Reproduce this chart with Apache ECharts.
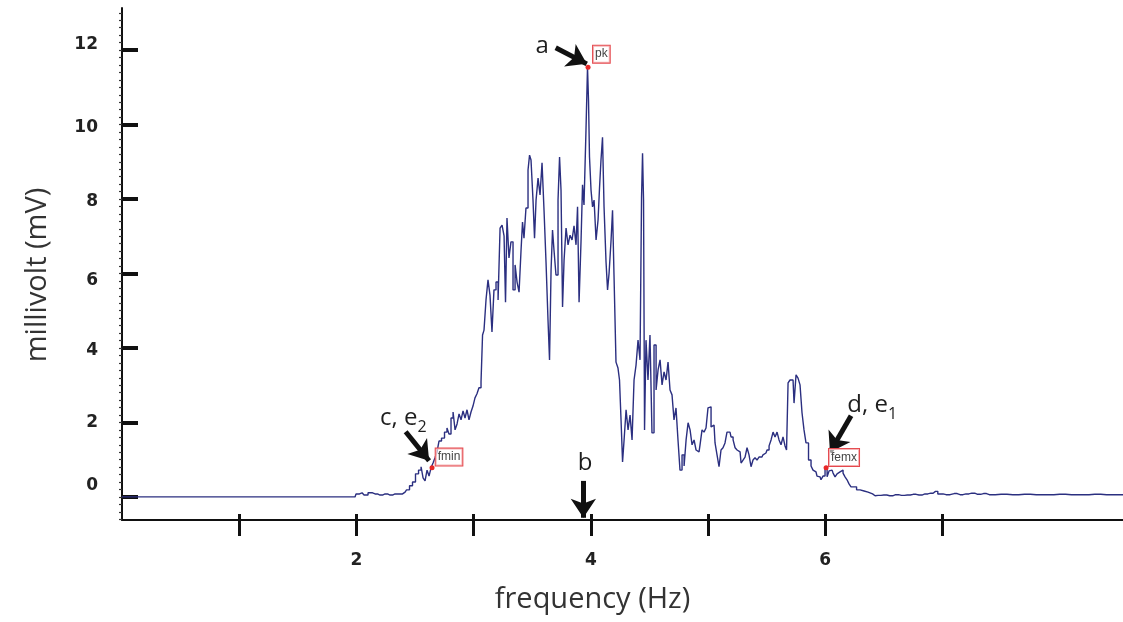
<!DOCTYPE html>
<html><head><meta charset="utf-8">
<script src="https://cdn.jsdelivr.net/npm/echarts@6/dist/echarts.min.js"></script>
<style>html,body{margin:0;padding:0;background:#fff}#c{width:1123px;height:622px}</style>
</head><body><div id="c"></div>
<script>
// frequency (Hz)
const freq = [
  0, 1.988, 2.005, 2.048, 2.082, 2.116, 2.159, 2.201, 2.244, 2.287,
  2.329, 2.372, 2.415, 2.440, 2.466, 2.491, 2.517, 2.543, 2.560, 2.577,
  2.594, 2.611, 2.628, 2.645, 2.662, 2.679, 2.696, 2.713, 2.739, 2.764,
  2.781, 2.798, 2.816, 2.833, 2.850, 2.867, 2.884, 2.901, 2.918, 2.935,
  2.952, 2.969, 2.986, 3.003, 3.020, 3.037, 3.054, 3.072, 3.080, 3.097,
  3.114, 3.131, 3.148, 3.165, 3.182, 3.200, 3.217, 3.234, 3.251, 3.268,
  3.276, 3.293, 3.310, 3.327, 3.345, 3.362, 3.379, 3.396, 3.413, 3.421,
  3.438, 3.455, 3.473, 3.481, 3.498, 3.515, 3.524, 3.541, 3.558, 3.575,
  3.592, 3.609, 3.626, 3.643, 3.652, 3.669, 3.677, 3.694, 3.711, 3.729,
  3.737, 3.754, 3.763, 3.780, 3.797, 3.814, 3.831, 3.848, 3.865, 3.882,
  3.891, 3.908, 3.925, 3.933, 3.950, 3.967, 3.976, 3.984, 3.993, 4.010,
  4.019, 4.036, 4.053, 4.070, 4.078, 4.095, 4.104, 4.121, 4.138, 4.147,
  4.164, 4.181, 4.189, 4.206, 4.223, 4.240, 4.249, 4.266, 4.275, 4.292,
  4.309, 4.326, 4.343, 4.360, 4.377, 4.394, 4.411, 4.428, 4.437, 4.445,
  4.454, 4.462, 4.479, 4.496, 4.513, 4.530, 4.548, 4.565, 4.582, 4.599,
  4.616, 4.633, 4.650, 4.667, 4.684, 4.701, 4.718, 4.735, 4.752, 4.769,
  4.787, 4.804, 4.821, 4.838, 4.855, 4.872, 4.889, 4.906, 4.923, 4.940,
  4.957, 4.974, 4.991, 5.008, 5.017, 5.034, 5.051, 5.068, 5.085, 5.102,
  5.119, 5.136, 5.153, 5.170, 5.187, 5.205, 5.222, 5.239, 5.256, 5.273,
  5.290, 5.307, 5.324, 5.341, 5.358, 5.375, 5.392, 5.409, 5.426, 5.443,
  5.460, 5.477, 5.494, 5.512, 5.529, 5.546, 5.563, 5.580, 5.597, 5.614,
  5.631, 5.648, 5.665, 5.674, 5.691, 5.708, 5.725, 5.742, 5.759, 5.776,
  5.793, 5.810, 5.827, 5.844, 5.870, 5.887, 5.904, 5.921, 5.938, 5.955,
  5.972, 5.989, 6.007, 6.024, 6.041, 6.058, 6.075, 6.092, 6.109, 6.126,
  6.143, 6.160, 6.177, 6.194, 6.211, 6.228, 6.254, 6.280, 6.314, 6.348,
  6.382, 6.425,
  6.45, 6.50, 6.55, 6.60, 6.65, 6.70, 6.75, 6.80, 6.85, 6.90,
  6.94, 6.98, 7.03, 7.10, 7.15, 7.20, 7.25, 7.30, 7.35, 7.40,
  7.50, 7.60, 7.70, 7.80, 7.90, 8.00, 8.10, 8.20, 8.30, 8.40, 8.54
];
// amplitude (mV)
const mv = [
  0, 0, 0.08, 0.11, 0.05, 0.11, 0.08, 0.05, 0.08, 0.05,
  0.08, 0.08, 0.13, 0.19, 0.30, 0.40, 0.62, 0.72, 0.81, 0.51,
  0.43, 0.72, 0.56, 0.78, 0.91, 1.05, 1.21, 1.50, 1.58, 1.74,
  1.85, 1.69, 2.12, 2.28, 1.80, 1.96, 2.23, 2.07, 2.31, 2.12,
  2.34, 2.07, 2.28, 2.44, 2.66, 2.77, 2.93, 3.09, 4.35, 4.48,
  5.29, 5.83, 5.42, 4.43, 5.56, 5.77, 5.29, 7.22, 7.30, 7.01,
  5.23, 7.49, 6.42, 6.85, 5.56, 6.23, 5.77, 5.50, 6.63, 7.38,
  6.95, 7.76, 8.78, 9.18, 9.05, 7.97, 6.95, 7.97, 8.56, 8.11,
  8.97, 7.70, 6.31, 4.75, 3.68, 6.09, 7.17, 6.63, 5.96, 7.97,
  9.13, 8.24, 5.10, 6.36, 7.22, 6.77, 7.03, 6.90, 7.28, 6.77,
  7.79, 5.23, 6.90, 8.38, 7.84, 9.85, 11.54, 10.66, 9.13, 8.24,
  7.79, 7.97, 6.90, 7.44, 8.30, 9.05, 9.66, 7.79, 6.31, 5.56,
  6.01, 6.90, 7.70, 5.96, 3.62, 3.46, 3.14, 2.07, 0.94, 1.53,
  2.34, 1.80, 2.20, 1.53, 3.14, 3.54, 4.21, 3.68, 8.05, 9.23,
  7.97, 1.80, 4.21, 3.14, 4.35, 1.72, 4.08, 2.87, 3.41, 3.68,
  3.01, 3.36, 3.14, 3.62, 2.87, 2.74, 2.07, 2.39, 1.53, 0.72,
  1.13, 0.83, 1.53, 1.99, 1.80, 1.40, 1.53, 1.26, 1.21, 1.40,
  1.80, 1.74, 1.85, 2.39, 2.42, 1.88, 1.93, 1.45, 1.13, 0.81,
  1.26, 1.32, 1.45, 1.74, 1.74, 1.61, 1.53, 1.32, 1.26, 1.21,
  0.91, 0.99, 1.07, 1.32, 1.13, 0.81, 0.99, 1.05, 0.99, 1.07,
  1.07, 1.13, 1.18, 1.26, 1.37, 1.53, 1.74, 1.61, 1.74, 1.53,
  1.40, 1.61, 1.37, 1.26, 3.06, 3.14, 3.14, 2.52, 3.28, 3.19,
  3.01, 2.26, 1.80, 1.45, 0.99, 0.83, 0.72, 0.67, 0.56, 0.54,
  0.46, 0.56, 0.78, 0.54, 0.70, 0.72, 0.64, 0.54, 0.62, 0.67,
  0.72, 0.64, 0.54, 0.46, 0.35, 0.27, 0.27, 0.19, 0.16, 0.13,
  0.08, 0.03,
  0.04, 0.05, 0.03, 0.06, 0.04, 0.05, 0.07, 0.05, 0.08, 0.10,
  0.15, 0.08, 0.06, 0.09, 0.06, 0.08, 0.10, 0.07, 0.09, 0.06,
  0.07, 0.06, 0.07, 0.06, 0.06, 0.07, 0.06, 0.06, 0.07, 0.06, 0.06
];
// axis ticks and labels
const xTickValues = [1, 2, 3, 4, 5, 6, 7];
const xLabelValues = [2, 4, 6];
const yTickValues = [0, 2, 4, 6, 8, 10, 12];
// annotations
const annoText = ['a', 'b', '{m|c, e}{s|2}', '{m|d, e}{s|1}'];
const annoAt = [[3.584, 12.11], [3.95, 0.91], [2.40, 2.12], [6.40, 2.47]];
const tagText = ['pk', 'fmin', 'femx'];
const tagAt = [[4.09, 11.89], [2.79, 1.07], [6.16, 1.06]];
const tagPoint = [[3.976, 11.54], [2.645, 0.78], [6.007, 0.78]];
const arrowFrom = [[3.70, 12.06], [3.936, 0.43], [2.42, 1.75], [6.22, 2.18]];
const arrowTo = [[3.965, 11.63], [3.936, -0.56], [2.62, 0.97], [6.04, 1.20]];

const minorVals = [];
for (let v = -0.6; v <= 13.05; v += 0.2) minorVals.push(+v.toFixed(2));

const labelFont = { fontFamily: 'DejaVu Sans', fontWeight: 'bold', fontSize: 17, color: '#222' };
// small vertical nudges of the y tick labels, as in the source figure (px, + = down)
const yLabelNudge = { 0: -11, 2: 0, 4: 3, 6: 7, 8: 3, 10: 3, 12: -5 };
const yRich = {};
yTickValues.forEach(v => {
  const d = yLabelNudge[v];
  yRich['v' + v] = Object.assign({ padding: d >= 0 ? [2 * d, 0, 0, 0] : [0, 0, -2 * d, 0] }, labelFont);
});
const textRich = {
  m: { fontFamily: 'Open Sans', fontSize: 24, color: '#1e1e1e', lineHeight: 34, verticalAlign: 'middle' },
  s: { fontFamily: 'Open Sans', fontSize: 16, color: '#1e1e1e', lineHeight: 20, verticalAlign: 'bottom' }
};

const chart = echarts.init(document.getElementById('c'), null, { renderer: 'canvas' });
chart.setOption({
  animation: false,
  backgroundColor: '#fff',
  grid: { left: 122, right: 0, top: 8, bottom: 102 },
  xAxis: [
    {
      type: 'value', min: 0, max: 8.54, position: 'bottom',
      axisLine: { show: true, onZero: false, lineStyle: { color: '#111', width: 2 } },
      splitLine: { show: false },
      axisTick: { show: true, customValues: xTickValues, length: 16, lineStyle: { color: '#111', width: 3 } },
      axisLabel: Object.assign({ customValues: xLabelValues, margin: 32 }, labelFont),
      name: 'frequency (Hz)', nameLocation: 'middle', nameGap: 65,
      nameTextStyle: { fontFamily: 'Open Sans', fontSize: 29, color: '#333', padding: [0, 60, 0, 0] }
    },
    {
      type: 'value', min: 0, max: 8.54, position: 'bottom',
      axisLine: { show: false, onZero: false }, splitLine: { show: false },
      axisTick: { show: true, inside: true, customValues: xTickValues, length: 6, lineStyle: { color: '#111', width: 3 } },
      axisLabel: { show: false }
    }
  ],
  yAxis: [
    {
      type: 'value', min: -0.62, max: 13.13,
      axisLine: { show: true, onZero: false, lineStyle: { color: '#111', width: 2 } },
      splitLine: { show: false },
      axisTick: { show: true, inside: true, customValues: yTickValues, length: 16, lineStyle: { color: '#111', width: 4 } },
      axisLabel: Object.assign({ customValues: yTickValues, margin: 24, rich: yRich,
        formatter: v => '{v' + v + '|' + v + '}' }, labelFont),
      name: 'millivolt (mV)', nameLocation: 'middle', nameGap: 70,
      nameTextStyle: { fontFamily: 'Open Sans', fontSize: 29, color: '#333', padding: [0, 22, 0, 0] }
    },
    {
      type: 'value', min: -0.62, max: 13.13, position: 'left',
      axisLine: { show: false, onZero: false }, splitLine: { show: false },
      axisTick: { show: true, customValues: minorVals, length: 3, lineStyle: { color: '#333', width: 1.2 } },
      axisLabel: { show: false }
    }
  ],
  series: [{
    type: 'line',
    xAxisIndex: 0, yAxisIndex: 0,
    data: freq.map((f, i) => [f, mv[i]]),
    step: 'middle',
    symbol: 'none',
    lineStyle: { color: '#2b2f80', width: 1.4 },
    markLine: {
      silent: true,
      symbol: ['none', 'arrow'],
      symbolSize: [19, 19],
      lineStyle: { color: '#111', width: 5, type: 'solid' },
      label: { show: false },
      data: arrowFrom.map((p, i) => [{ coord: p }, { coord: arrowTo[i] }])
    },
    markPoint: {
      silent: true,
      data: [].concat(
        annoText.map((t, i) => ({
          coord: annoAt[i], symbol: 'circle', symbolSize: 1,
          itemStyle: { color: 'rgba(0,0,0,0)' },
          label: { show: true, position: 'inside', formatter: t, fontFamily: 'Open Sans', fontSize: 24, color: '#1e1e1e', rich: textRich }
        })),
        tagText.map((t, i) => ({
          coord: tagAt[i], symbol: 'circle', symbolSize: 1,
          itemStyle: { color: 'rgba(0,0,0,0)' },
          label: { show: true, position: 'inside', formatter: t, fontFamily: 'Liberation Sans', fontSize: 12, color: '#444',
                   borderColor: '#e5484d', borderWidth: 1, padding: [3, 2, 2, 2], backgroundColor: 'rgba(255,255,255,0.6)' }
        })),
        tagPoint.map(p => ({
          coord: p, symbol: 'circle', symbolSize: 5,
          itemStyle: { color: '#e82828' }, label: { show: false }
        }))
      )
    }
  }]
});
</script>
</body></html>
